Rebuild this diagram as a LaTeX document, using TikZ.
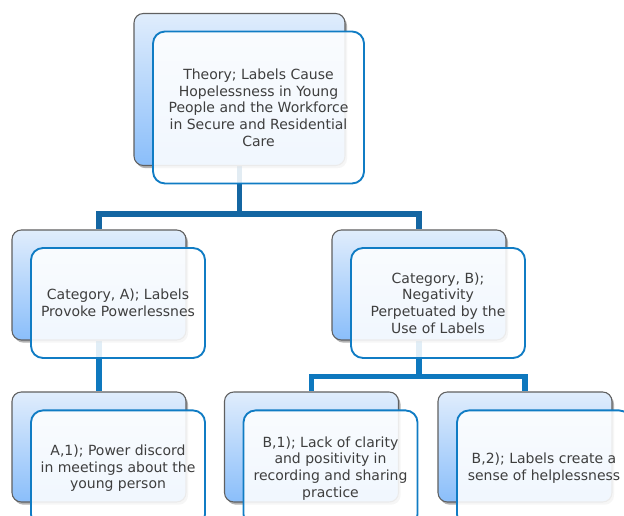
\documentclass[tikz,border=0pt]{standalone}
\usepackage{fontspec}
\setmainfont{DejaVu Sans}
\usetikzlibrary{positioning,shadows,backgrounds}
\definecolor{linkdark}{RGB}{20,102,162}
\definecolor{linklight}{RGB}{14,120,190}
\definecolor{frameblue}{RGB}{16,124,196}
\definecolor{backtop}{RGB}{224,237,252}
\definecolor{backbot}{RGB}{138,190,250}
\definecolor{textgray}{RGB}{62,62,62}
\begin{document}
\begin{tikzpicture}[x=.75pt,y=-.75pt,line join=round,
	backbox/.style={draw=gray!75!black,line width=.8pt,rounded corners=7pt,
		top color=backtop,bottom color=backbot,inner sep=0pt,
		minimum width=130.5pt,minimum height=82.5pt,
		drop shadow={shadow xshift=1.5pt,shadow yshift=-2pt,opacity=.3,fill=black}},
	topback/.style={backbox,minimum width=158.25pt,minimum height=114pt},
	frontbox/.style={draw=frameblue,line width=1.4pt,rounded corners=9pt,
		fill=white,fill opacity=.88,text opacity=1,text=textgray,align=center,
		font=\fontsize{10.5}{12.5}\selectfont,inner sep=0pt,
		minimum width=130.5pt,minimum height=82.5pt},
	topfront/.style={frontbox,minimum width=158.25pt,minimum height=114pt},
	lowfront/.style={frontbox,minimum height=87pt},
	link/.style={draw=linkdark,line width=3.8pt},
	sublink/.style={draw=linklight,line width=3.8pt}]
	\useasboundingbox (0,0) rectangle (624,516);
	\clip (0,0) rectangle (624,516);
	% back plates
	\node[topback] (topB) at (239.5,89.5) {};
	\node[backbox] (catAB) at (99,285) {};
	\node[backbox] (catBB) at (419,285) {};
	\node[backbox] (aoneB) at (99,447) {};
	\node[backbox] (boneB) at (311.5,447) {};
	\node[backbox] (btwoB) at (525,447) {};
	% front cards
	\node[topfront] (topF) at ([shift={(19,18)}]topB.center)
		{Theory; Labels Cause\\Hopelessness in Young\\People and the Workforce\\in Secure and Residential\\Care};
	\node[frontbox] (catAF) at ([shift={(19,18)}]catAB.center)
		{Category, A); Labels\\Provoke Powerlessnes};
	\node[frontbox] (catBF) at ([shift={(19,18)}]catBB.center)
		{Category, B);\\Negativity\\Perpetuated by the\\Use of Labels};
	\node[lowfront,anchor=north] (aoneF) at ([shift={(19,18)}]aoneB.north)
		{A,1); Power discord\\in meetings about the\\young person};
	\node[lowfront,anchor=north] (boneF) at ([shift={(19,18)}]boneB.north)
		{B,1); Lack of clarity\\and positivity in\\recording and sharing\\practice};
	\node[lowfront,anchor=north] (btwoF) at ([shift={(19,18)}]btwoB.north)
		{B,2); Labels create a\\sense of helplessness};
	% connectors
	\begin{scope}[on background layer]
		\draw[link] (topB.south) -- ++(0,48) -| (catAB.north);
		\draw[link] (topB.south) -- ++(0,48) -| (catBB.north);
		\draw[sublink] (catAB.south) -- (aoneB.north);
		\draw[sublink] (catBB.south) -- ++(0,36) -| (boneB.north);
		\draw[sublink] (catBB.south) -- ++(0,36) -| (btwoB.north);
	\end{scope}
\end{tikzpicture}
\end{document}
